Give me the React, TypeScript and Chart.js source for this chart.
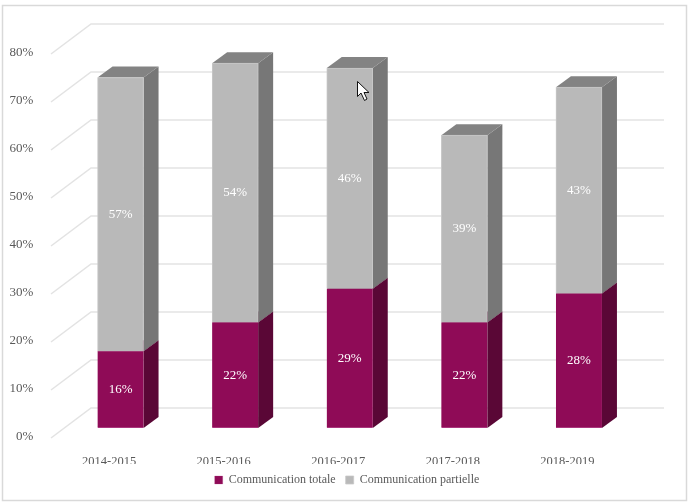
import React, { useEffect, useRef } from "react";
import { Chart, registerables } from "chart.js";

Chart.register(...registerables);

const categories = ["2014-2015", "2015-2016", "2016-2017", "2017-2018", "2018-2019"];
const totale = [16, 22, 29, 22, 28];
const partielle = [57, 54, 46, 39, 43];

const FONT = '"Liberation Serif", serif';
const TEXT = "#595959";
const DX = 15; // bar depth
const DY = 11;
const WALL_DX = 40; // wall depth
const WALL_DY = 30;
const BACK_DY = 20; // back wall offset above the front plane

const faces = [
  { front: "#8f0b57", side: "#5a0736", top: "#6f0844" },
  { front: "#b9b9b9", side: "#777777", top: "#838383" },
];

const threeD = {
  id: "threeD",
  beforeDraw(chart: any) {
    const { ctx, scales } = chart;
    const y = scales.y;
    ctx.save();
    ctx.fillStyle = "#ffffff";
    ctx.fillRect(0, 0, chart.width, chart.height);
    ctx.strokeStyle = "#d9d9d9";
    ctx.lineWidth = 1.5;
    ctx.strokeRect(2.5, 5.5, 684, 495);
    for (const v of y.ticks) {
      const py = y.getPixelForValue(v.value) - BACK_DY;
      ctx.strokeStyle = "#e3e3e3";
      ctx.lineWidth = 1.5;
      ctx.beginPath();
      ctx.moveTo(91 - WALL_DX, py + WALL_DY);
      ctx.lineTo(91, py);
      ctx.lineTo(664, py);
      ctx.stroke();
    }
    ctx.restore();
  },
  beforeDatasetsDraw(chart: any) {
    const { ctx } = chart;
    ctx.save();
    chart.data.datasets.forEach((_: any, di: number) => {
      chart.getDatasetMeta(di).data.forEach((bar: any) => {
        const { x, y, base, width } = bar.getProps(["x", "y", "base", "width"], true);
        const r = x + width / 2;
        const l = x - width / 2;
        ctx.fillStyle = faces[di].side;
        ctx.beginPath();
        ctx.moveTo(r, base);
        ctx.lineTo(r + DX, base - DY);
        ctx.lineTo(r + DX, y - DY);
        ctx.lineTo(r, y);
        ctx.closePath();
        ctx.fill();
        ctx.fillStyle = faces[di].top;
        ctx.beginPath();
        ctx.moveTo(l, y);
        ctx.lineTo(l + DX, y - DY);
        ctx.lineTo(r + DX, y - DY);
        ctx.lineTo(r, y);
        ctx.closePath();
        ctx.fill();
      });
    });
    ctx.restore();
  },
  afterDatasetsDraw(chart: any) {
    const { ctx } = chart;
    ctx.save();
    ctx.fillStyle = "#ffffff";
    ctx.font = `13px ${FONT}`;
    ctx.textAlign = "center";
    ctx.textBaseline = "middle";
    chart.data.datasets.forEach((ds: any, di: number) => {
      chart.getDatasetMeta(di).data.forEach((bar: any, i: number) => {
        const { x, y, base } = bar.getProps(["x", "y", "base"], true);
        ctx.fillText(`${ds.data[i]}%`, x, (y + base) / 2);
      });
    });
    // mouse pointer visible in the screenshot
    ctx.fillStyle = "#ffffff";
    ctx.strokeStyle = "#111111";
    ctx.lineWidth = 1;
    ctx.beginPath();
    ctx.moveTo(357.5, 81.5);
    ctx.lineTo(357.5, 96.5);
    ctx.lineTo(361, 93);
    ctx.lineTo(364.5, 100.5);
    ctx.lineTo(367, 99);
    ctx.lineTo(364, 92.5);
    ctx.lineTo(369, 92.5);
    ctx.closePath();
    ctx.fill();
    ctx.stroke();
    ctx.restore();
  },
};

export default function App() {
  const ref = useRef<HTMLCanvasElement>(null);
  useEffect(() => {
    const chart = new Chart(ref.current!, {
      type: "bar",
      plugins: [threeD],
      data: {
        labels: categories,
        datasets: [
          {
            label: "Communication totale",
            data: totale,
            backgroundColor: faces[0].front,
            borderColor: "#b3468a",
            borderWidth: { bottom: 1, top: 0, left: 0, right: 0 },
            borderSkipped: false,
          },
          {
            label: "Communication partielle",
            data: partielle,
            backgroundColor: faces[1].front,
            borderColor: "#c8c8c8",
            borderWidth: { left: 1, top: 1, bottom: 0, right: 1 },
            borderSkipped: false,
          },
        ],
      } as any,
      options: {
        responsive: false,
        animation: false,
        layout: { padding: { left: 4, right: 0, top: 44, bottom: 7 } },
        datasets: { bar: { barThickness: 46 } },
        scales: {
          x: {
            stacked: true,
            afterFit: (s: any) => { s.height = 36; },
            grid: { display: false },
            border: { display: false },
            ticks: {
              color: TEXT,
              font: { family: FONT, size: 12.5 },
              labelOffset: -11.5,
              padding: 18,
              maxRotation: 0,
            },
          },
          y: {
            stacked: true,
            min: 0,
            max: 80,
            afterFit: (s: any) => { s.width = 59.25; },
            grid: { display: false },
            border: { display: false },
            ticks: {
              stepSize: 10,
              color: TEXT,
              font: { family: FONT, size: 13 },
              labelOffset: 9,
              padding: 22,
              callback: (v: any) => `${v}%`,
            },
          },
          y2: {
            position: "right",
            afterFit: (s: any) => { s.width = 53.75; },
            grid: { display: false },
            border: { display: false },
            ticks: { display: false },
          },
        },
        plugins: {
          legend: {
            position: "bottom",
            labels: {
              color: TEXT,
              font: { family: FONT, size: 12 },
              boxWidth: 8,
              boxHeight: 8,
              padding: 10,
            },
          },
          tooltip: { enabled: false },
        },
      } as any,
    });
    return () => chart.destroy();
  }, []);
  return (
    <canvas
      ref={ref}
      width={690}
      height={503}
      style={{ position: "absolute", left: 0, top: 0, width: 690, height: 503, display: "block" }}
    />
  );
}
